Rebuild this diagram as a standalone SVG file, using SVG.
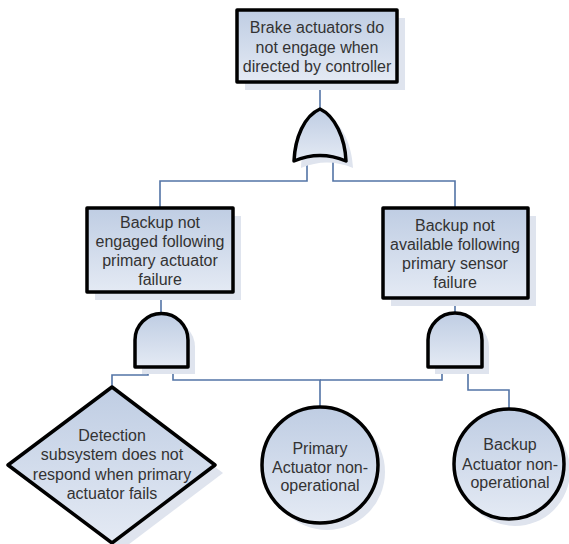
<svg xmlns="http://www.w3.org/2000/svg" width="569" height="544" viewBox="0 0 569 544">
<defs>
<linearGradient id="fill" x1="0" y1="0" x2="0" y2="1">
<stop offset="0" stop-color="#bfcde3"/>
<stop offset="1" stop-color="#e4eaf4"/>
</linearGradient>
<style>
.shape{fill:url(#fill);stroke:#000;stroke-width:3.5;stroke-linejoin:round}
.shadow{fill:#dfe4ee}
.conn{fill:none;stroke:#5374a6;stroke-width:1.6}
text{font-family:"Liberation Sans",Arial,sans-serif;font-size:16px;fill:#333;text-anchor:middle}
</style>
</defs>
<rect width="569" height="544" fill="#fff"/>
<g id="connectors">
<path class="conn" d="M320,82 V110"/>
<path class="conn" d="M307,158 V181 H160 V208"/>
<path class="conn" d="M333,158 V181 H455 V208"/>
<path class="conn" d="M161,292 V313"/>
<path class="conn" d="M455,298 V313"/>
<path class="conn" d="M148,366 V375 H112 V387"/>
<path class="conn" d="M173,366 V380 H320 V407"/>
<path class="conn" d="M442,366 V380 H320"/>
<path class="conn" d="M468,366 V390 H509 V408"/>
</g>
<g id="top-event">
<rect class="shadow" x="245" y="18" width="160" height="72"/>
<rect class="shape" x="237" y="10" width="160" height="72"/>
<text x="317" y="33">Brake actuators do</text>
<text x="317" y="53">not engage when</text>
<text x="317" y="72">directed by controller</text>
</g>
<g id="or-gate">
<path class="shadow" d="M327,116 C311,123 302,145 301,168 Q327,157 353,168 C352,145 342,123 327,116 Z"/>
<path class="shape" d="M320,109 C304,116 295,138 294,161 Q320,150 346,161 C345,138 335,116 320,109 Z"/>
</g>
<g id="backup-not-engaged">
<rect class="shadow" x="95" y="216" width="146" height="84"/>
<rect class="shape" x="87" y="208" width="146" height="84"/>
<text x="160" y="228">Backup not</text>
<text x="160" y="247">engaged following</text>
<text x="160" y="266">primary actuator</text>
<text x="160" y="285">failure</text>
</g>
<g id="backup-not-available">
<rect class="shadow" x="391" y="216" width="145" height="90"/>
<rect class="shape" x="383" y="208" width="145" height="90"/>
<text x="455" y="231">Backup not</text>
<text x="455" y="250">available following</text>
<text x="455" y="269">primary sensor</text>
<text x="455" y="288">failure</text>
</g>
<g id="and-gate-left">
<path class="shadow" d="M142,374 V347 A26.5,26.5 0 0 1 195,347 V374 Z"/>
<path class="shape" d="M135,367 V340 A26.5,26.5 0 0 1 188,340 V367 Z"/>
</g>
<g id="and-gate-right">
<path class="shadow" d="M435,374 V347 A27,27 0 0 1 489,347 V374 Z"/>
<path class="shape" d="M428,367 V340 A27,27 0 0 1 482,340 V367 Z"/>
</g>
<g id="detection-subsystem">
<path class="shadow" d="M120,395 L223,473 L120,551 L16,473 Z"/>
<path class="shape" d="M112,387 L215,465 L112,543 L8,465 Z"/>
<text x="112" y="441">Detection</text>
<text x="112" y="460">subsystem does not</text>
<text x="112" y="480">respond when primary</text>
<text x="112" y="499">actuator fails</text>
</g>
<g id="primary-actuator">
<circle class="shadow" cx="327" cy="472" r="58"/>
<circle class="shape" cx="320" cy="465" r="58"/>
<text x="320" y="454">Primary</text>
<text x="320" y="473">Actuator non-</text>
<text x="320" y="491">operational</text>
</g>
<g id="backup-actuator">
<circle class="shadow" cx="515" cy="471" r="55"/>
<circle class="shape" cx="509" cy="464" r="55"/>
<text x="510" y="450">Backup</text>
<text x="510" y="470">Actuator non-</text>
<text x="510" y="488">operational</text>
</g>
</svg>
